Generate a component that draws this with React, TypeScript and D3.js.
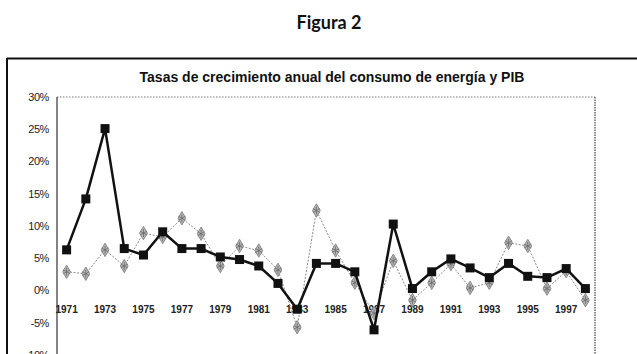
import * as d3 from 'd3';

// Annual growth rates (%), 1971-1998
const years = [
  1971, 1972, 1973, 1974, 1975, 1976, 1977, 1978, 1979, 1980, 1981, 1982, 1983, 1984,
  1985, 1986, 1987, 1988, 1989, 1990, 1991, 1992, 1993, 1994, 1995, 1996, 1997, 1998,
];
const consumoEnergia = [
  6.3, 14.2, 25.1, 6.5, 5.5, 9.1, 6.5, 6.5, 5.2, 4.8, 3.8, 1.1, -2.9, 4.2,
  4.2, 2.9, -6.1, 10.3, 0.3, 2.9, 4.9, 3.5, 2.0, 4.2, 2.2, 2.0, 3.4, 0.3,
];
const pib = [
  2.9, 2.6, 6.3, 3.8, 8.9, 8.3, 11.2, 8.8, 3.8, 6.9, 6.2, 3.2, -5.7, 12.4,
  6.2, 1.2, -3.5, 4.6, -1.5, 1.2, 4.1, 0.4, 1.2, 7.4, 6.9, 0.3, 3.0, -1.5,
];
const yTicks = [30, 25, 20, 15, 10, 5, 0, -5, -10];
const xTickYears = years.filter((yr) => yr % 2 === 1);

const W = 637;
const H = 354;
const plot = { left: 57, right: 595, top: 97, zero: 290.5 };

export default function App() {
  const x = d3
    .scaleBand<number>()
    .domain(years)
    .range([plot.left, plot.right]);
  const cx = (yr: number) => (x(yr) ?? 0) + x.bandwidth() / 2;
  const y = d3.scaleLinear().domain([0, 30]).range([plot.zero, plot.top]);

  const line = d3
    .line<number>()
    .x((_, i) => cx(years[i]))
    .y((v) => y(v));

  const diamond = d3.symbol().type(d3.symbolDiamond).size(52)()!;
  const asterisk = d3.symbol().type(d3.symbolAsterisk).size(44)()!;
  const sq = 9;

  return (
    <svg
      width={W}
      height={H}
      viewBox={`0 0 ${W} ${H}`}
      style={{ position: 'absolute', left: 0, top: 0, background: '#fff' }}
    >
      <text
        x={329}
        y={29}
        textAnchor="middle"
        fontFamily="Lato, 'Noto Sans', sans-serif"
        fontWeight={700}
        fontSize={18}
        fill="#111"
      >
        Figura 2
      </text>

      {/* outer chart frame */}
      <line x1={7} x2={W} y1={58.5} y2={58.5} stroke="#111" strokeWidth={2} />
      <line x1={7} x2={7} y1={58} y2={H} stroke="#111" strokeWidth={2} />

      <text
        x={332}
        y={82}
        textAnchor="middle"
        fontFamily="'Liberation Sans', Arial, sans-serif"
        fontWeight={700}
        fontSize={14}
        fill="#111"
      >
        Tasas de crecimiento anual del consumo de energía y PIB
      </text>

      {/* plot area */}
      <line x1={plot.left} x2={plot.right} y1={plot.top} y2={plot.top} stroke="#777" strokeWidth={1} strokeDasharray="1.5 1.5" />
      <line x1={plot.right} x2={plot.right} y1={plot.top} y2={H} stroke="#444" strokeWidth={1.2} strokeDasharray="1.5 1" />
      <line x1={plot.left} x2={plot.left} y1={plot.top} y2={H} stroke="#333" strokeWidth={1.2} />

      {yTicks.map((t) => (
        <text
          key={t}
          x={49}
          y={y(t)}
          dy="0.35em"
          textAnchor="end"
          fontFamily="'Liberation Sans', Arial, sans-serif"
          fontSize={11}
          fill="#222"
          letterSpacing={-0.4}
        >
          {`${t}%`}
        </text>
      ))}

      {xTickYears.map((yr) => (
        <text
          key={yr}
          x={cx(yr)}
          y={y(0) + 22}
          textAnchor="middle"
          fontFamily="'Liberation Sans', Arial, sans-serif"
          fontWeight={700}
          fontSize={10}
          fill="#222"
        >
          {yr}
        </text>
      ))}

      {/* PIB */}
      <path d={line(pib) ?? ''} fill="none" stroke="#8a8a8a" strokeWidth={1} strokeDasharray="2 1.5" />
      {pib.map((v, i) => (
        <g key={`p${i}`} transform={`translate(${cx(years[i])},${y(v)})`}>
          <path d={diamond} fill="#b8b8b8" stroke="#888" strokeWidth={1} />
          <path d={asterisk} fill="none" stroke="#6e6e6e" strokeWidth={0.9} />
        </g>
      ))}

      {/* consumo de energía */}
      <path d={line(consumoEnergia) ?? ''} fill="none" stroke="#111" strokeWidth={2.5} strokeLinejoin="round" />
      {consumoEnergia.map((v, i) => (
        <rect
          key={`e${i}`}
          x={cx(years[i]) - sq / 2}
          y={y(v) - sq / 2}
          width={sq}
          height={sq}
          fill="#111"
        />
      ))}
    </svg>
  );
}
